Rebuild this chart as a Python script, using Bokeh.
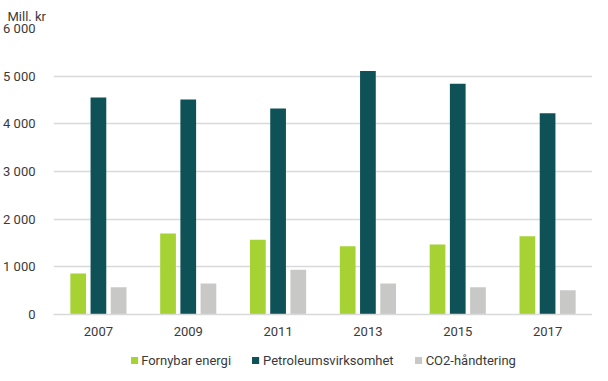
from bokeh.plotting import figure
from bokeh.layouts import column
from bokeh.models import ColumnDataSource, FactorRange, Range1d, Legend, LegendItem, FixedTicker, CustomJSTickFormatter
from bokeh.transform import dodge
from bokeh.embed import file_html
from bokeh.resources import INLINE

years = ["2007", "2009", "2011", "2013", "2015", "2017"]
fornybar = [860, 1700, 1570, 1430, 1470, 1640]
petroleum = [4550, 4510, 4320, 5110, 4840, 4220]
co2 = [570, 650, 940, 650, 570, 510]
series_names = ["Fornybar energi", "Petroleumsvirksomhet", "CO2-håndtering"]
colors = ["#a6d234", "#0e5257", "#c8c9c7"]

src = ColumnDataSource(dict(years=years, f=fornybar, p=petroleum, c=co2))

FONT = "Roboto"
TXT = "#3a3a3a"

p = figure(width=592, height=343, x_range=FactorRange(*years, range_padding=0),
           y_range=Range1d(0, 6000), output_backend="svg", toolbar_location=None,
           min_border_left=44, min_border_right=0, min_border_top=28, min_border_bottom=29)

r1 = p.vbar(x=dodge("years", -0.225, range=p.x_range), top="f", width=0.175, source=src,
            color=colors[0], line_color=None)
r2 = p.vbar(x=dodge("years", 0.0, range=p.x_range), top="p", width=0.175, source=src,
            color=colors[1], line_color=None)
r3 = p.vbar(x=dodge("years", 0.225, range=p.x_range), top="c", width=0.175, source=src,
            color=colors[2], line_color=None)

p.title.text = "Mill. kr"
p.title.text_font = FONT
p.title.text_font_size = "13px"
p.title.text_font_style = "normal"
p.title.text_color = TXT
p.title.align = "left"
p.title.offset = -46
p.title.standoff = 10

p.outline_line_color = None
p.xgrid.grid_line_color = None
p.ygrid.grid_line_color = "#d9d9d9"
p.ygrid.grid_line_width = 1.5

p.yaxis.ticker = FixedTicker(ticks=[0, 1000, 2000, 3000, 4000, 5000, 6000])
p.yaxis.formatter = CustomJSTickFormatter(code="return tick >= 1000 ? Math.floor(tick/1000) + ' ' + String(tick % 1000).padStart(3, '0') : String(tick);")
p.yaxis.axis_line_color = None
p.yaxis.major_tick_line_color = None
p.yaxis.minor_tick_line_color = None
p.yaxis.major_label_standoff = 12
p.yaxis.major_label_text_font = FONT
p.yaxis.major_label_text_font_size = "13px"
p.yaxis.major_label_text_color = TXT

p.xaxis.axis_line_color = "#d9d9d9"
p.xaxis.axis_line_width = 1.5
p.xaxis.major_tick_line_color = None
p.xaxis.minor_tick_line_color = None
p.xaxis.major_label_standoff = 6
p.xaxis.major_label_text_font = FONT
p.xaxis.major_label_text_font_size = "13px"
p.xaxis.major_label_text_color = TXT

# legend-only figure: proxy glyphs placed outside its visible range
lf = figure(width=592, height=33, output_backend="svg", toolbar_location=None,
            x_range=Range1d(0, 1), y_range=Range1d(0, 1), min_border=0)
lf.axis.visible = False
lf.grid.visible = False
lf.outline_line_color = None
lrs = [lf.vbar(x=[5], top=[5], bottom=[4], width=0.1, color=c, line_color=None) for c in colors]
legend = Legend(items=[LegendItem(label=n, renderers=[r]) for n, r in zip(series_names, lrs)],
                orientation="horizontal", location="center")
legend.label_text_font = FONT
legend.label_text_font_size = "13px"
legend.label_text_color = TXT
legend.glyph_width = 9
legend.glyph_height = 9
legend.label_standoff = 3
legend.spacing = 20
legend.padding = 0
legend.margin = 0
legend.border_line_color = None
legend.background_fill_alpha = 0
lf.add_layout(legend)

open("out.html", "w").write(file_html(column(p, lf, spacing=0), INLINE))
